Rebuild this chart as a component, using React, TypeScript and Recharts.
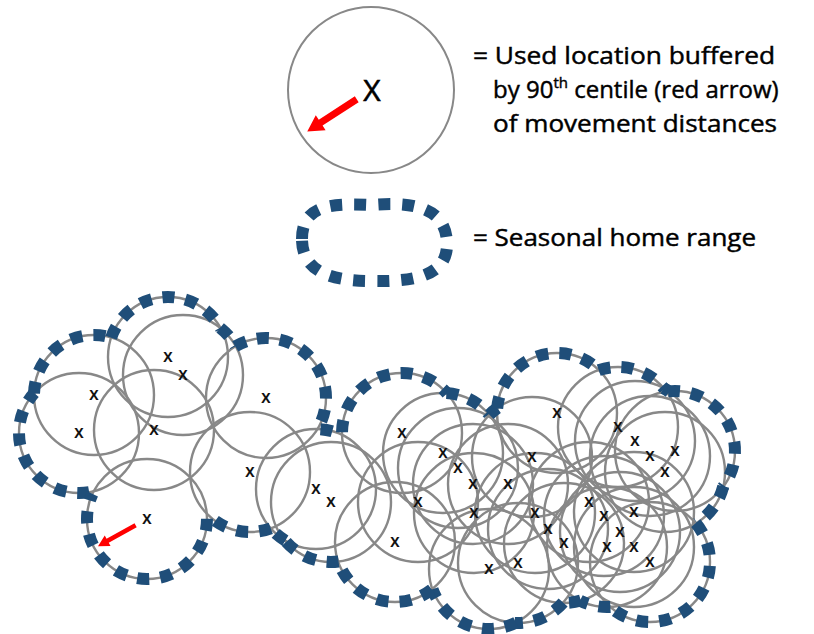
import React from 'react';
import { ScatterChart, Scatter, XAxis, YAxis } from 'recharts';

const W = 814;
const H = 634;

// Used locations (x marks) in image coordinates
const locationX = [168, 183, 94, 79, 154, 266, 250, 147, 316, 331,
  402, 443, 458, 473, 508, 418, 474, 532, 557, 535, 548, 564, 518, 489, 395,
  618, 635, 650, 675, 665, 589, 604, 634, 620, 607, 634, 650];
const locationY = [357, 375, 395, 433, 430, 398, 472, 519, 489, 502,
  433, 453, 468, 484, 484, 502, 513, 457, 413, 513, 529, 543, 563, 569, 542,
  427, 441, 456, 451, 472, 502, 516, 512, 532, 547, 547, 562];
const bufferRadius = 60; // 90th centile of movement distances (map units)
const arrowLocationIndex = 7;
const arrowAngleDeg = 151;

const legendLines = [
  '= Used location buffered',
  'by 90',
  'th',
  ' centile (red arrow)',
  'of movement distances',
  '= Seasonal home range',
];

const legendCircle = { x: 371, y: 90, r: 83, arrowAngle: 147 };
const legendRange = { x: 376, y: 241 };

const BLUE = '#1F4E79';
const GREY = '#888888';
const RED = '#FF0000';
const FONT = '"Open Sans", "DejaVu Sans", sans-serif';

const locations = locationX.map((x, i) => ({ id: i, x, y: locationY[i] }));

function computeOuterArcs(pts: { x: number; y: number }[], R: number) {
  const cell = 3;
  const gw = Math.ceil(W / cell);
  const gh = Math.ceil(H / cell);
  const covered = new Uint8Array(gw * gh);
  for (let j = 0; j < gh; j++) {
    for (let i = 0; i < gw; i++) {
      const px = (i + 0.5) * cell;
      const py = (j + 0.5) * cell;
      for (const p of pts) {
        const dx = px - p.x;
        const dy = py - p.y;
        if (dx * dx + dy * dy < R * R) {
          covered[j * gw + i] = 1;
          break;
        }
      }
    }
  }
  const ext = new Uint8Array(gw * gh);
  const stack: number[] = [0];
  ext[0] = 1;
  while (stack.length) {
    const k = stack.pop() as number;
    const i = k % gw;
    const j = (k - i) / gw;
    const nb = [
      [i + 1, j],
      [i - 1, j],
      [i, j + 1],
      [i, j - 1],
    ];
    for (const [a, b] of nb) {
      if (a < 0 || b < 0 || a >= gw || b >= gh) continue;
      const kk = b * gw + a;
      if (!ext[kk] && !covered[kk]) {
        ext[kk] = 1;
        stack.push(kk);
      }
    }
  }
  const isExt = (x: number, y: number) => {
    const i = Math.floor(x / cell);
    const j = Math.floor(y / cell);
    if (i < 0 || j < 0 || i >= gw || j >= gh) return true;
    return ext[j * gw + i] === 1;
  };
  const N = 720;
  const step = (Math.PI * 2) / N;
  return pts.map((c, idx) => {
    const flags: boolean[] = [];
    for (let s = 0; s < N; s++) {
      const a = s * step;
      const x = c.x + R * Math.cos(a);
      const y = c.y + R * Math.sin(a);
      let inside = false;
      for (let o = 0; o < pts.length; o++) {
        if (o === idx) continue;
        const dx = x - pts[o].x;
        const dy = y - pts[o].y;
        if (dx * dx + dy * dy < (R - 0.3) * (R - 0.3)) {
          inside = true;
          break;
        }
      }
      const outer = !inside && isExt(c.x + (R + 5) * Math.cos(a), c.y + (R + 5) * Math.sin(a));
      flags.push(outer);
    }
    const arcs: [number, number][] = [];
    if (flags.every((f) => f)) {
      arcs.push([0, Math.PI * 2 - 0.0001]);
      return arcs;
    }
    const s0 = flags.findIndex((f) => !f);
    let runStart = -1;
    for (let t = 1; t <= N; t++) {
      const s = s0 + t;
      const f = flags[s % N];
      if (f && runStart < 0) runStart = s;
      if ((!f || t === N) && runStart >= 0) {
        const end = f ? s : s - 1;
        arcs.push([(runStart - 0.5) * step, (end + 0.5) * step]);
        runStart = -1;
      }
    }
    return arcs;
  });
}

const outerArcs = computeOuterArcs(locations, bufferRadius);

function arrowPolygon(x1: number, y1: number, x2: number, y2: number, shaft: number, headW: number, headL: number) {
  const dx = x2 - x1;
  const dy = y2 - y1;
  const len = Math.sqrt(dx * dx + dy * dy);
  const ux = dx / len;
  const uy = dy / len;
  const nx = -uy;
  const ny = ux;
  const bx = x2 - ux * headL;
  const by = y2 - uy * headL;
  const p = [
    [x1 + nx * shaft / 2, y1 + ny * shaft / 2],
    [bx + nx * shaft / 2, by + ny * shaft / 2],
    [bx + nx * headW / 2, by + ny * headW / 2],
    [x2, y2],
    [bx - nx * headW / 2, by - ny * headW / 2],
    [bx - nx * shaft / 2, by - ny * shaft / 2],
    [x1 - nx * shaft / 2, y1 - ny * shaft / 2],
  ];
  return p.map((q) => q.join(',')).join(' ');
}

const CircleShape = (props: any) => {
  const { cx, cy } = props;
  return <circle cx={cx} cy={cy} r={bufferRadius} fill="none" stroke={GREY} strokeWidth={2.4} />;
};

const OutlineShape = (props: any) => {
  const { cx, cy, payload } = props;
  const arcs = outerArcs[payload.id] || [];
  const R = bufferRadius;
  return (
    <g>
      {arcs.map(([a0, a1], k) => {
        const x1 = cx + R * Math.cos(a0);
        const y1 = cy + R * Math.sin(a0);
        const x2 = cx + R * Math.cos(a1);
        const y2 = cy + R * Math.sin(a1);
        const large = a1 - a0 > Math.PI ? 1 : 0;
        return (
          <path
            key={k}
            d={`M${x1},${y1} A${R},${R} 0 ${large} 1 ${x2},${y2}`}
            fill="none"
            stroke={BLUE}
            strokeWidth={12}
            strokeDasharray="12 11"
          />
        );
      })}
    </g>
  );
};

const MarkShape = (props: any) => {
  const { cx, cy, payload } = props;
  const showArrow = payload.id === arrowLocationIndex;
  const a = (arrowAngleDeg * Math.PI) / 180;
  return (
    <g>
      {showArrow && (
        <polygon
          points={arrowPolygon(
            cx + 13 * Math.cos(a),
            cy + 13 * Math.sin(a),
            cx + (bufferRadius - 4) * Math.cos(a),
            cy + (bufferRadius - 4) * Math.sin(a),
            4.5,
            12,
            11
          )}
          fill={RED}
        />
      )}
      <text x={cx} y={cy + 5} textAnchor="middle" fontSize={14} fontWeight="bold" fontFamily={FONT} fill="#111">
        X
      </text>
    </g>
  );
};

const LegendShape = (props: any) => {
  const { cx, cy } = props;
  const a = (legendCircle.arrowAngle * Math.PI) / 180;
  // offsets relative to legend circle centre
  const rx = cx - legendCircle.x;
  const ry = cy - legendCircle.y;
  const bx = legendRange.x + rx;
  const by = legendRange.y + ry;
  const blob =
    `M${bx - 74},${by - 2} ` +
    `C${bx - 74},${by - 36} ${bx - 45},${by - 38} ${bx - 5},${by - 36} ` +
    `C${bx + 40},${by - 40} ${bx + 70},${by - 32} ${bx + 71},${by + 2} ` +
    `C${bx + 72},${by + 34} ${bx + 40},${by + 41} ${bx - 5},${by + 40} ` +
    `C${bx - 50},${by + 40} ${bx - 74},${by + 28} ${bx - 74},${by - 2} Z`;
  return (
    <g>
      <circle cx={cx} cy={cy} r={legendCircle.r} fill="none" stroke={GREY} strokeWidth={2} />
      <polygon
        points={arrowPolygon(
          cx + 17 * Math.cos(a),
          cy + 17 * Math.sin(a),
          cx + 76 * Math.cos(a),
          cy + 76 * Math.sin(a),
          7,
          18,
          16
        )}
        fill={RED}
      />
      <text x={cx + 1} y={cy + 11} textAnchor="middle" fontSize={30} fontFamily={FONT} fill="#000" stroke="#000" strokeWidth={0.6}>
        X
      </text>
      <path d={blob} fill="none" stroke={BLUE} strokeWidth={12} strokeDasharray="12 12" />
      <g fontFamily={FONT} fill="#000" fontSize={24} stroke="#000" strokeWidth={0.45}>
        <text x={473 + rx} y={64 + ry} textLength={302} lengthAdjust="spacingAndGlyphs">
          {legendLines[0]}
        </text>
        <text x={493 + rx} y={98 + ry}>
          {legendLines[1]}
          <tspan fontSize={15} dy={-10}>
            {legendLines[2]}
          </tspan>
          <tspan dy={10}>{legendLines[3]}</tspan>
        </text>
        <text x={493 + rx} y={132 + ry} textLength={284} lengthAdjust="spacingAndGlyphs">
          {legendLines[4]}
        </text>
        <text x={473 + rx} y={246 + ry} textLength={283} lengthAdjust="spacingAndGlyphs">
          {legendLines[5]}
        </text>
      </g>
    </g>
  );
};

export default function App() {
  return (
    <div style={{ position: 'absolute', left: 0, top: 0, width: W, height: H, background: '#fff' }}>
      <ScatterChart width={W} height={H} margin={{ top: 0, right: 0, bottom: 0, left: 0 }}>
        <XAxis type="number" dataKey="x" domain={[0, W]} hide allowDataOverflow />
        <YAxis type="number" dataKey="y" domain={[0, H]} reversed hide allowDataOverflow />
        <Scatter data={locations} shape={CircleShape} isAnimationActive={false} />
        <Scatter data={locations} shape={OutlineShape} isAnimationActive={false} />
        <Scatter data={locations} shape={MarkShape} isAnimationActive={false} />
        <Scatter data={[{ x: legendCircle.x, y: legendCircle.y }]} shape={LegendShape} isAnimationActive={false} />
      </ScatterChart>
    </div>
  );
}
